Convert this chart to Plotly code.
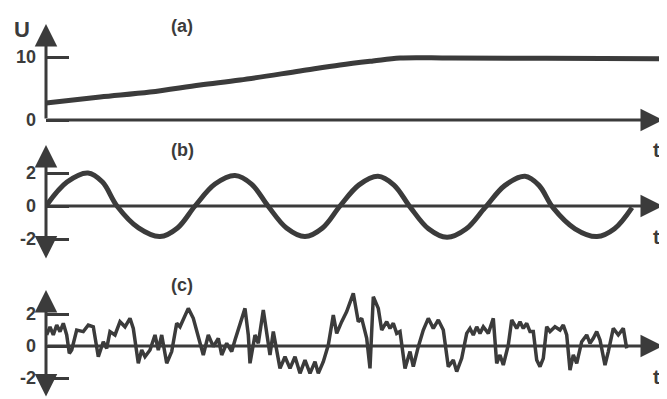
import plotly.graph_objects as go

# ---------------- data (t in arbitrary time units) ----------------
t_a = [0, 5.4, 10.4, 15.4, 19.4, 25.4, 29.4, 32.7, 35.4, 40.4, 50.0, 62.1]
u_a = [2.7, 3.65, 4.44, 5.56, 6.35, 7.78, 8.73, 9.37, 9.84, 9.84, 9.8, 9.7]

t_b = [0, 2.1, 4.2, 5.65, 7.1, 9.25, 11.4, 13.15, 14.9, 16.9, 18.9, 20.55,
       22.2, 24.05, 25.9, 27.65, 29.4, 31.3, 33.2, 34.8, 36.4, 38.25, 40.1,
       42.0, 43.9, 45.9, 47.9, 49.3, 50.7, 52.9, 55.1, 56.85, 58.6]
u_b = [0, 1.45, 2.0, 1.45, 0, -1.33, -1.85, -1.33, 0, 1.33, 1.85, 1.33,
       0, -1.33, -1.85, -1.33, 0, 1.28, 1.8, 1.27, -0.05, -1.38, -1.9,
       -1.4, -0.1, 1.25, 1.8, 1.25, -0.1, -1.38, -1.85, -1.38, -0.1]

t_c = [0.07, 0.4, 0.73, 1.07, 1.4, 1.73, 2.07, 2.33, 2.57, 3.07, 3.73, 4.23, 4.73,
       5.23, 5.73, 6.07, 6.4, 6.9, 7.4, 7.9, 8.4, 8.73, 9.23, 9.57, 9.9, 10.4,
       10.9, 11.23, 11.57, 12.07, 12.57, 13.07, 13.4, 14.23, 14.73, 15.4, 15.73,
       16.23, 16.73, 17.23, 17.57, 18.07, 18.57, 18.9, 19.4, 19.9, 20.23, 20.4,
       20.9, 21.23, 21.73, 22.07, 22.4, 22.73, 23.07, 23.4, 23.9, 24.4, 24.9,
       25.4, 25.9, 26.4, 26.9, 27.23, 27.73, 28.23, 28.73, 29.07, 29.57, 30.07,
       30.73, 31.23, 31.57, 32.07, 32.4, 32.73, 33.23, 33.57, 34.07, 34.4, 34.73,
       35.07, 35.4, 35.9, 36.4, 36.73, 37.23, 37.73, 38.23, 38.73, 39.23, 39.73,
       40.23, 40.73, 41.07, 41.57, 42.07, 42.4, 42.73, 43.07, 43.4, 43.73, 44.23,
       44.73, 45.07, 45.4, 45.73, 46.23, 46.57, 47.07, 47.4, 47.73, 48.07, 48.4,
       48.73, 49.07, 49.4, 49.73, 50.07, 50.4, 50.9, 51.4, 51.73, 52.07, 52.4,
       52.73, 53.07, 53.57, 54.07, 54.4, 54.73, 55.07, 55.4, 55.9, 56.23, 56.73,
       57.23, 57.73, 58.07]
u_c = [0.69, 1.2, 0.69, 1.31, 0.9, 1.42, 0.69, -0.46, -0.25, 1.0, 0.9, 1.31, 1.2,
       -0.67, 0.27, -0.15, 0.9, 0.69, 1.52, 1.2, 1.73, 1.1, -1.08, -0.25, -0.67,
       -0.25, 0.69, -0.25, 0.69, -1.08, -0.35, 1.42, 1.2, 2.35, 1.73, 0.27, -0.56,
       0.69, -0.04, 0.48, -0.56, 0.17, -0.35, 0.38, 1.31, 2.35, 0.69, -1.08,
       0.69, 0.17, 2.25, 0.9, -0.56, 0.9, -0.35, -1.4, -0.67, -1.4, -0.67,
       -1.71, -0.88, -1.71, -0.98, -1.71, -0.98, 0.06, 1.94, 0.79, 1.52, 2.15,
       3.29, 1.52, 1.73, 0.48, -1.4, 3.08, 2.35, 1.0, 1.52, 1.1, 1.42,
       0.79, 0.9, -1.4, -0.35, -1.29, -0.04, 1.0, 1.73, 1.1, 1.63, 1.0,
       -1.29, -0.88, -1.6, -0.77, 0.79, 1.1, 0.69, 1.2, 0.79, 1.2, 0.79,
       1.73, -1.08, -0.56, -1.19, 0.06, 1.63, 1.1, 1.52, 1.1, 1.42, 0.9,
       0.9, -0.88, -1.29, -0.77, 1.2, 0.9, 1.2, 1.0, 1.31, 0.69, -1.5,
       -0.56, -1.08, 0.27, 0.69, 0.17, 0.48, 0.9, 0.38, -1.19, -0.35, 1.1,
       0.69, 1.1, -0.15]

ticks_a = [0, 10]
ticks_bc = [-2, 0, 2]
panel_labels = ["(a)", "(b)", "(c)"]

# ---------------- styling ----------------
INK = "#3b3b3b"
OFF = 8                      # page body margin
W, H = 667 - OFF, 399 - OFF  # figure size
L = 46 - OFF                 # left margin (y axis at page x=46)
PW = W - L

def py(px):   # page pixel y -> paper y
    return 1 - (px - OFF) / H

def pxx(px):  # page pixel x -> paper x
    return (px - OFF - L) / PW

fig = go.Figure()
fig.add_trace(go.Scatter(x=t_a, y=u_a, mode="lines", yaxis="y",
                         line=dict(color=INK, width=5, shape="spline"),
                         hoverinfo="skip"))
fig.add_trace(go.Scatter(x=t_b, y=u_b, mode="lines", yaxis="y2",
                         line=dict(color=INK, width=5, shape="spline", smoothing=1.0),
                         hoverinfo="skip"))
fig.add_trace(go.Scatter(x=t_c, y=u_c, mode="lines", yaxis="y3",
                         line=dict(color=INK, width=3.5),
                         hoverinfo="skip"))

XMAX = PW / 10.0
tickfont = dict(family="Liberation Sans, Arial, sans-serif", size=18,
                color=INK, weight="bold")
yax_common = dict(showgrid=False, zeroline=False, showline=False,
                  ticks="inside", ticklen=23, tickwidth=3, tickcolor=INK,
                  tickfont=tickfont, anchor="x", fixedrange=True,
                  ticklabelstandoff=9)

fig.update_layout(
    width=W, height=H, autosize=False,
    margin=dict(l=L, r=0, t=0, b=0, pad=0),
    paper_bgcolor="white", plot_bgcolor="white",
    showlegend=False,
    xaxis=dict(range=[0, XMAX], visible=False, fixedrange=True),
    yaxis=dict(domain=[py(130), py(15)], range=[-10 / 6.3, 105 / 6.3],
               tickvals=ticks_a, ticktext=[str(v) for v in ticks_a], **yax_common),
    yaxis2=dict(domain=[py(266), py(138)], range=[-60 / 16.5, 68 / 16.5],
                tickvals=ticks_bc, ticktext=[str(v) for v in ticks_bc], **yax_common),
    yaxis3=dict(domain=[py(399), py(282)], range=[-53 / 16, 64 / 16],
                tickvals=ticks_bc, ticktext=[str(v) for v in ticks_bc], **yax_common),
)

def arrow(yref, x0, y0, x1, y1, both=False):
    fig.add_annotation(x=x1, y=y1, ax=x0, ay=y0, xref="x", yref=yref,
                       axref="x", ayref=yref, text="", showarrow=True,
                       arrowhead=2, arrowsize=1.5, arrowwidth=3,
                       arrowcolor=INK, arrowside="end+start" if both else "end")

# x axes
arrow("y", 0, 0, 61.7, 0)
arrow("y2", 0, 0, 61.7, 0)
arrow("y3", 0, 0, 61.7, 0)
# y axes
arrow("y", 0, 0, 0, 96 / 6.3)
arrow("y2", 0, -54 / 16.5, 0, 61 / 16.5, both=True)
arrow("y3", 0, -52 / 16, 0, 56 / 16, both=True)

txt = dict(family="Liberation Sans, Arial, sans-serif", color=INK, weight="bold")
anc = dict(xref="paper", yref="paper", showarrow=False,
           xanchor="center", yanchor="middle")
for lab, ypx in zip(panel_labels, [26, 150, 285]):
    fig.add_annotation(x=pxx(182), y=py(ypx), text=lab,
                       font=dict(size=18, **txt), **anc)
fig.add_annotation(x=pxx(22), y=py(29), text="U", font=dict(size=22, **txt), **anc)
for ypx in [150, 237, 377]:
    fig.add_annotation(x=pxx(662), y=py(ypx), text="t", xref="paper", yref="paper",
                       showarrow=False, xanchor="right", yanchor="middle",
                       font=dict(size=20, **txt))

fig.write_html("out.html")
